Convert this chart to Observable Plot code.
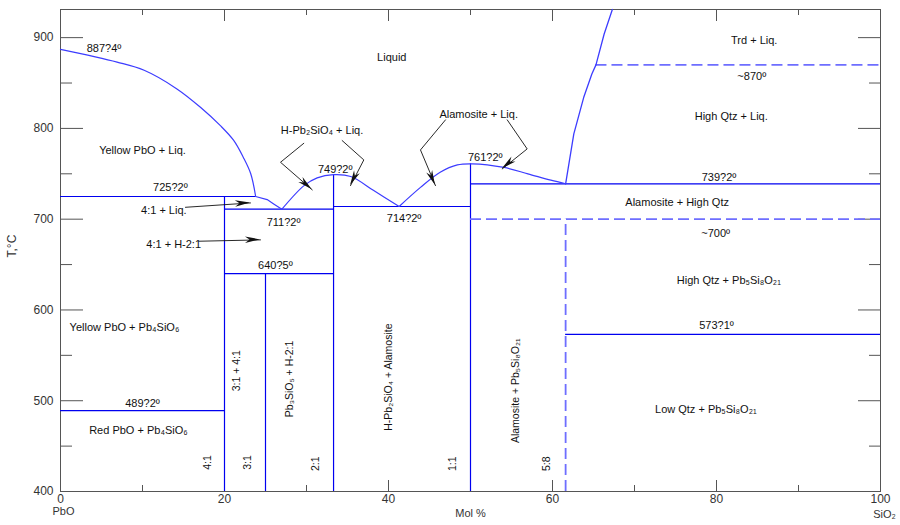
<!DOCTYPE html>
<html><head><meta charset="utf-8">
<script src="https://cdn.jsdelivr.net/npm/d3@7"></script>
<script src="https://cdn.jsdelivr.net/npm/@observablehq/plot@0.6"></script>
<style>
body{margin:0;background:#fff}
#chart svg{display:block}
</style>
</head><body><div id="chart"></div>
<script>
// ---- axis values ----
const xMajor = [0, 20, 40, 60, 80, 100];
const xMinor = [10, 30, 50, 70, 90];
const yMajor = [400, 500, 600, 700, 800, 900];
const yMinor = [450, 550, 650, 750, 850];

// ---- liquidus curves [mol% SiO2, T] ----
const liquidusPbO = [[0,887],[6.9,873],[10.2,864],[14.2,843.5],[17.1,823],[19.5,803],[21.1,787],[22.3,768],[23.2,750],[23.8,725]];
const liquidus41 = [[23.8,725],[25.2,721.6],[26.0,716.8],[27.0,711]];
const liquidus21 = [[27.0,711],[29.7,737],[31.3,745.5],[33.3,749],[35.4,747],[38.2,731.5],[41.3,714]];
const liquidusAlam = [[41.3,714],[43.9,735],[46.3,751.7],[48.4,759.8],[50.2,761],[54.1,757],[57.0,750],[59.8,743],[61.6,739]];
const liquidusQtz = [[61.6,739],[62.6,794],[63.8,834],[64.8,860],[65.3,870],[66.3,904],[67.3,931]];

// ---- invariant lines ----
const solidH = [[0,23.8,725],[20,33.3,711],[20,33.3,640],[33.3,50,714],[50,100,739],[61.6,100,573],[0,20,489]]; // [x1,x2,T]
const solidV = [[20,400,725],[25,400,640],[33.3,400,749],[50,400,761]]; // [x,T1,T2]
const dashedH = [[65.3,100,870],[50,100,700]];
const dashedV = [[61.6,400,700]];

// ---- leader arrows (polyline, head at the last point) ----
const arrowPaths = [
  [[15.24,713.1],[23.17,717.9]],
  [[16.87,675.7],[24.39,677.2]],
  [[29.67,783.6],[26.83,762.7],[30.70,732.3]],
  [[34.35,786.6],[36.99,765.3],[35.37,737.0]],
  [[46.95,809.4],[43.90,776.3],[45.73,737.0]],
  [[54.48,809.4],[56.91,777.4],[53.87,755.4]]
];

// ---- phase labels ----
const labelText = ["Liquid","887?4º","Yellow PbO + Liq.","725?2º","4:1 + Liq.","711?2º","4:1 + H-2:1","640?5º",
  "H-Pb₂SiO₄ + Liq.","749?2º","714?2º","Alamosite + Liq.","761?2º","Trd + Liq.","~870º","High Qtz + Liq.","739?2º",
  "Alamosite + High Qtz","~700º","High Qtz + Pb₅Si₈O₂₁","573?1º","Low Qtz + Pb₅Si₈O₂₁","Yellow PbO + Pb₄SiO₆","489?2º","Red PbO + Pb₄SiO₆"];
const labelX = [40.4,5.3,10.0,13.4,12.6,27.2,13.8,26.2,31.9,33.5,41.9,51.0,51.8,84.6,84.3,81.8,80.3,75.2,79.9,81.5,80.0,78.7,7.8,10.0,9.5];
const labelT = [878,888,775.5,734.8,709.5,696.6,671.7,648.9,797.6,754.3,700.3,815.2,768.2,896.7,857,813,746.1,718.6,683.8,632.4,582.8,490,580.6,496.6,467];

const vLabelText = ["4:1","3:1","3:1 + 4:1","Pb₃SiO₅ + H-2:1","H-Pb₂SiO₄ + Alamosite","Alamosite + Pb₅Si₈O₂₁","2:1","1:1","5:8"];
const vLabelX = [17.9,22.8,21.5,28.0,40.0,55.5,31.1,47.8,59.3];
const vLabelT = [432,432,533,524,526,511,430.5,430.5,430.5];

const labels = labelText.map((t,i)=>({t, x: labelX[i], y: labelT[i]}));
const vLabels = vLabelText.map((t,i)=>({t, x: vLabelX[i], y: vLabelT[i]}));

const FONT = "'Liberation Sans Narrow','Arial Narrow','Liberation Sans',Arial,sans-serif";
const BLUE = "#0000f0", CURVE = "#3c3cff", DASH = "#6e6eff", AX = "#555";

const plot = Plot.plot({
  width: 900, height: 525,
  marginLeft: 60, marginRight: 20, marginTop: 9, marginBottom: 34,
  x: {domain: [0, 100]},
  y: {domain: [400, 931]},
  style: {fontFamily: "'Liberation Sans',Arial,sans-serif", fontSize: "11px", background: "#fff", color: "#333"},
  marks: [
    // ticks (inward) and labels
    Plot.axisY(yMajor, {anchor: "left", tickSize: -23, tickFormat: () => "", label: null, stroke: AX}),
    Plot.axisY(yMinor, {anchor: "left", tickSize: -12, tickFormat: () => "", label: null, stroke: AX}),
    Plot.axisY(yMajor, {anchor: "right", tickSize: -23, tickFormat: () => "", label: null, stroke: AX}),
    Plot.axisY(yMinor, {anchor: "right", tickSize: -12, tickFormat: () => "", label: null, stroke: AX}),
    Plot.axisY(yMajor, {anchor: "left", tickSize: 0, tickPadding: 7, label: null, fontSize: 12}),
    Plot.axisX(xMajor, {anchor: "bottom", tickSize: -11, tickFormat: () => "", label: null, stroke: AX}),
    Plot.axisX(xMinor, {anchor: "bottom", tickSize: -6, tickFormat: () => "", label: null, stroke: AX}),
    Plot.axisX(xMajor, {anchor: "top", tickSize: -11, tickFormat: () => "", label: null, stroke: AX}),
    Plot.axisX(xMinor, {anchor: "top", tickSize: -5, tickFormat: () => "", label: null, stroke: AX}),
    Plot.axisX(xMajor, {anchor: "bottom", tickSize: 0, tickPadding: 3, label: null, fontSize: 12}),
    Plot.frame({stroke: AX, strokeWidth: 1}),
    // phase boundaries
    Plot.ruleY(solidH, {y: d => d[2], x1: d => d[0], x2: d => d[1], stroke: BLUE, strokeWidth: 1.2}),
    Plot.ruleX(solidV, {x: d => d[0], y1: d => d[1], y2: d => d[2], stroke: BLUE, strokeWidth: 1.2}),
    Plot.ruleY(dashedH, {y: d => d[2], x1: d => d[0], x2: d => d[1], stroke: DASH, strokeWidth: 1.8, strokeDasharray: "11,5"}),
    Plot.ruleX(dashedV, {x: d => d[0], y1: d => d[1], y2: d => d[2], stroke: DASH, strokeWidth: 1.8, strokeDasharray: "11,5"}),
    Plot.line(liquidusPbO, {stroke: CURVE, strokeWidth: 1.2, curve: "catmull-rom"}),
    Plot.line(liquidus41, {stroke: CURVE, strokeWidth: 1.2}),
    Plot.line(liquidus21, {stroke: CURVE, strokeWidth: 1.2, curve: "catmull-rom"}),
    Plot.line(liquidusAlam, {stroke: CURVE, strokeWidth: 1.2, curve: "catmull-rom"}),
    Plot.line(liquidusQtz, {stroke: CURVE, strokeWidth: 1.3}),
    // leaders
    ...arrowPaths.map(p => Plot.line(p, {stroke: "#111", strokeWidth: 0.9})),
    // labels
    Plot.text(labels, {x: "x", y: "y", text: "t", fontFamily: FONT, fontSize: 11, fill: "#111"}),
    Plot.text(vLabels, {x: "x", y: "y", text: "t", rotate: -90, fontFamily: FONT, fontSize: 10.5, fill: "#111"}),
    // axis titles
    Plot.text(["Mol %"], {text: d => d, frameAnchor: "bottom", dy: 25, fontSize: 11, fontFamily: FONT}),
    Plot.text(["PbO"], {text: d => d, frameAnchor: "bottom-left", dx: 3, dy: 23, textAnchor: "middle", fontSize: 11, fontFamily: FONT}),
    Plot.text(["SiO₂"], {text: d => d, frameAnchor: "bottom-right", dx: 4, dy: 26, textAnchor: "middle", fontSize: 11, fontFamily: FONT}),
    Plot.text(["T,°C"], {text: d => d, frameAnchor: "left", dx: -48, dy: 7, rotate: -90, fontSize: 12, fontFamily: FONT})
  ]
});

// filled arrowheads placed through the plot's own scales
const sx = plot.scale("x"), sy = plot.scale("y");
const heads = d3.select(plot).append("g").attr("fill", "#111");
for (const p of arrowPaths) {
  const [ax, ay] = [sx.apply(p[p.length-2][0]), sy.apply(p[p.length-2][1])];
  const [bx, by] = [sx.apply(p[p.length-1][0]), sy.apply(p[p.length-1][1])];
  const len = Math.hypot(bx-ax, by-ay), ux = (bx-ax)/len, uy = (by-ay)/len;
  const L = 15, W = 3.2;
  const cx = bx - ux*L, cy = by - uy*L;
  const mx = bx - ux*L*0.7, my = by - uy*L*0.7;
  heads.append("path").attr("d",
    `M${bx},${by}L${cx - uy*W},${cy + ux*W}L${mx},${my}L${cx + uy*W},${cy - ux*W}Z`);
}
document.getElementById("chart").appendChild(plot);
</script>
</body></html>
